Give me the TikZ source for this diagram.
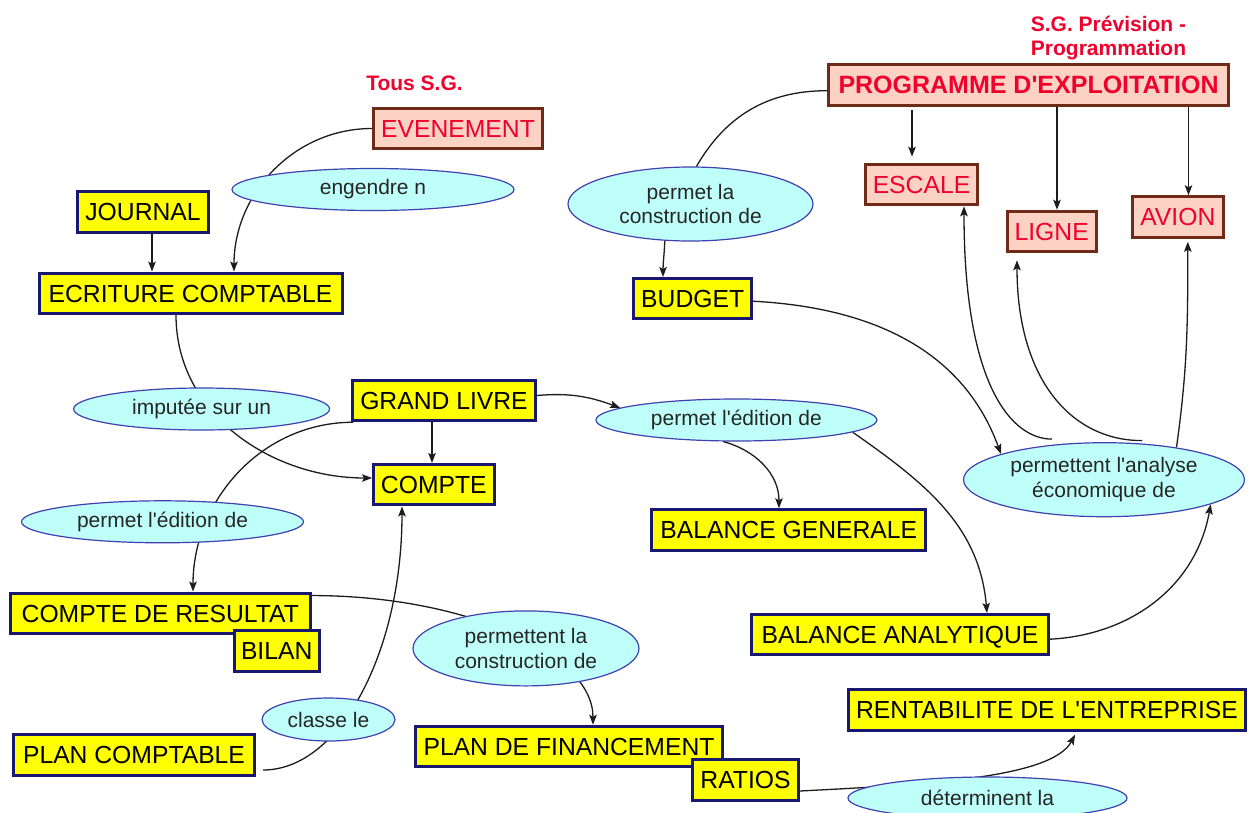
\documentclass[tikz,border=0pt]{standalone}
\usepackage{fontspec}
\setmainfont{Liberation Sans}[Ligatures=TeXOff]
\usetikzlibrary{shapes.geometric,arrows.meta}

\definecolor{boxfill}{RGB}{255,255,0}
\definecolor{boxline}{RGB}{24,24,112}
\definecolor{evfill}{RGB}{252,210,196}
\definecolor{evline}{RGB}{110,44,24}
\definecolor{evtext}{RGB}{240,0,44}
\definecolor{linkfill}{RGB}{190,255,250}
\definecolor{linkline}{RGB}{64,64,176}
\definecolor{wirecol}{RGB}{28,28,28}

\pgfdeclarelayer{wires}
\pgfsetlayers{wires,main}

\tikzset{
  concept/.style={draw=boxline, fill=boxfill, line width=3pt, minimum height=40.5pt,
    inner xsep=4pt, inner ysep=0pt, text height=17.7pt, text depth=0pt,
    font=\fontsize{24.7}{28}\selectfont},
  event/.style={concept, draw=evline, fill=evfill, text=evtext},
  link/.style={ellipse, draw=linkline, fill=linkfill, line width=1.2pt, inner sep=0pt,
    align=center, font=\fontsize{21}{24.5}\selectfont, text=black!85},
  wire/.style={draw=wirecol, line width=1.3pt},
  arr/.style={wire, -{Stealth[length=10pt,width=7.5pt,inset=2pt]}},
  tag/.style={text=evtext, font=\bfseries\fontsize{21}{23.5}\selectfont, align=center, inner sep=0pt},
}

\begin{document}
\begin{tikzpicture}[x=1pt,y=1pt]
\useasboundingbox (0,0) rectangle (1248,-812);

% group labels
\node[tag] (tous) at (414.5,-83.3) {Tous S.G.};
\node[tag] (sgp) at (1108.5,-37.9) {S.G. Prévision -\\Programmation};

% concepts and linking phrases
\node[event, font=\bfseries\fontsize{25}{28}\selectfont, minimum width=400pt] (prog) at (1028.5,-85) {PROGRAMME D'EXPLOITATION};
\node[event, minimum width=169pt] (ev) at (458,-128.5) {EVENEMENT};
\node[link, minimum width=282pt, minimum height=42pt] (eng) at (373,-189.5) {engendre n};
\node[concept, minimum width=131pt] (jou) at (143,-212) {JOURNAL};
\node[concept, minimum width=303pt] (ecr) at (190.5,-293.3) {ECRITURE COMPTABLE};
\node[link, minimum width=256pt, minimum height=42pt] (imp) at (201.6,-409) {imputée sur un};
\node[concept, minimum width=183pt] (gl) at (444,-400.5) {GRAND LIVRE};
\node[concept, minimum width=120.5pt] (cpt) at (433.8,-484.7) {COMPTE};
\node[link, minimum width=282pt, minimum height=42pt] (pel) at (162.5,-521.8) {permet l'édition de};
\node[concept, minimum width=299.6pt] (cdr) at (160.3,-613.3) {COMPTE DE RESULTAT};
\node[concept, minimum width=85pt] (bil) at (276.7,-650.8) {BILAN};
\node[link, minimum width=133pt, minimum height=43pt] (cls) at (328.5,-719.5) {classe le};
\node[concept, minimum width=241pt] (pc) at (134,-755) {PLAN COMPTABLE};
\node[link, minimum width=226pt, minimum height=75pt] (pcb) at (526,-648.4) {permettent la\\construction de};
\node[concept, minimum width=307pt] (pdf) at (569,-746.5) {PLAN DE FINANCEMENT};
\node[concept, minimum width=106pt] (rat) at (745.5,-780) {RATIOS};
\node[link, minimum width=279pt, minimum height=42pt] (det) at (987.5,-798) {déterminent la};
\node[concept, minimum width=397pt] (rent) at (1047,-710) {RENTABILITE DE L'ENTREPRISE};
\node[concept, minimum width=297pt] (ba) at (900,-634.7) {BALANCE ANALYTIQUE};
\node[concept, minimum width=274pt] (bg) at (788.8,-530) {BALANCE GENERALE};
\node[link, minimum width=281pt, minimum height=42pt] (per) at (736.4,-420) {permet l'édition de};
\node[link, minimum width=281pt, minimum height=74pt] (ana) at (1104,-479.7) {permettent l'analyse\\économique de};
\node[concept, minimum width=117.6pt] (bud) at (692.7,-298.7) {BUDGET};
\node[link, minimum width=245pt, minimum height=74pt] (plc) at (690.5,-204) {permet la\\construction de};
\node[event, minimum width=112pt] (esc) at (921.5,-184.5) {ESCALE};
\node[event, minimum width=89pt] (lig) at (1051.7,-231.5) {LIGNE};
\node[event, minimum width=91.4pt] (avi) at (1177.8,-217) {AVION};

% connectors, drawn beneath the nodes
\begin{pgfonlayer}{wires}
\draw[arr] (ev.west) to[out=180,in=90] ([xshift=43.5pt]ecr.north);
\draw[arr] ([xshift=9pt]jou.south) -- ([xshift=-38.5pt]ecr.north);
\draw[arr] ([xshift=-14.5pt]ecr.south) to[out=-90,in=180] ([yshift=6.7pt]cpt.west);
\draw[arr] ([xshift=-12pt]gl.south) -- ([xshift=-1.8pt]cpt.north);
\draw[arr] ([xshift=2pt]gl.south west) to[out=180,in=90] ([xshift=32.7pt]cdr.north);
\draw[arr] ([yshift=5pt]gl.east) to[out=5,in=160] (per.174);
\draw[arr] (per.-122) to[out=-15,in=90] ([xshift=-9.8pt]bg.north);
\draw[arr] (per.-6.5) to[out=-35,in=95] ([xshift=87pt]ba.north);
\draw[wire] ([yshift=-5.7pt]prog.west) to[out=180,in=60] (plc.81);
\draw[arr] (plc.-125) to[out=-92,in=90] ([xshift=-29.7pt]bud.north);
\draw[arr] ([yshift=-2.5pt]bud.east) to[out=-3,in=110] (ana.166);
\draw[arr] ([xshift=-52pt,yshift=3pt]ana.north) to[out=180,in=-90,out distance=40pt,in distance=180pt] ([xshift=42.5pt]esc.south);
\draw[arr] ([xshift=38pt,yshift=1.5pt]ana.north) to[out=180,in=-90,out distance=70pt,in distance=120pt] ([xshift=-34.7pt,yshift=-7pt]lig.south);
\draw[arr] (ana.24) to[out=82,in=-90] ([xshift=10pt,yshift=-3pt]avi.south);
\draw[arr] ([yshift=-4.5pt]ba.east) to[out=3,in=-100] (ana.-13);
\draw[arr] ([yshift=-4pt]cdr.north east) to[out=0,in=90,out distance=155pt,in distance=71pt] ([xshift=24pt]pdf.north);
\draw[arr] ([xshift=7pt,yshift=-15pt]pc.east) to[out=0,in=-90,out distance=77pt,in distance=145pt] ([xshift=-31.8pt]cpt.south);
\draw[arr] ([yshift=-11pt]rat.east) to[out=3,in=-118,out distance=120pt,in distance=50pt] ([xshift=28pt,yshift=-3pt]rent.south);
% programme d'exploitation to its three parts
\draw[arr] ([xshift=-116.5pt,yshift=-3pt]prog.south) -- ([xshift=-9.5pt,yshift=6pt]esc.north);
\draw[arr] ([xshift=28.5pt]prog.south) -- ([xshift=5.3pt]lig.north);
\draw[arr] ([xshift=160pt]prog.south) -- ([xshift=10.7pt]avi.north);
\end{pgfonlayer}
\end{tikzpicture}
\end{document}
